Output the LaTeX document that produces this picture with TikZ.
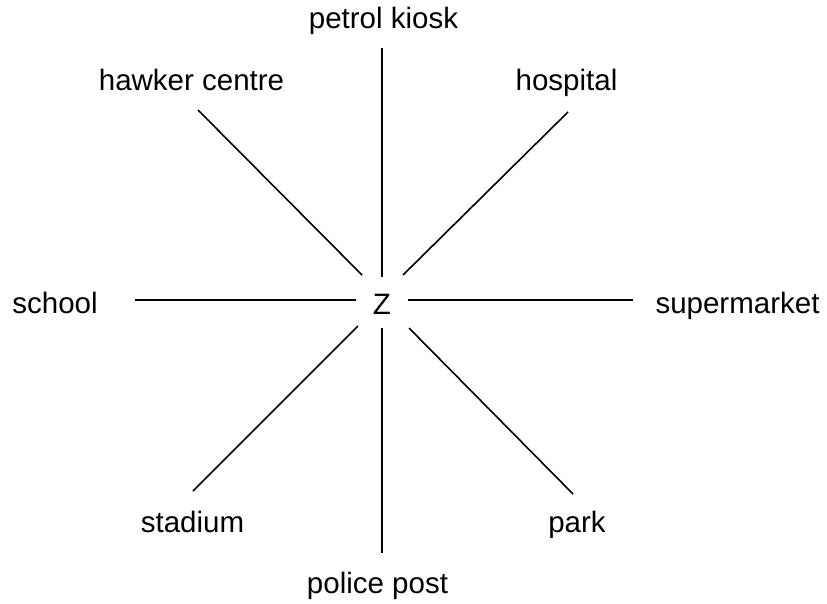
\documentclass[tikz,border=0pt]{standalone}
\usepackage{fontspec}
\setmainfont{Liberation Sans}
\begin{document}
\begin{tikzpicture}[x=1pt,y=-1pt,
  lbl/.style={anchor=base,inner sep=0pt,font=\fontsize{29.5}{34}\selectfont},
  spoke/.style={line width=1.6pt,black}]
\useasboundingbox (0,0) rectangle (827,603);
\fill[white] (0,0) rectangle (827,603);
% labels
\node[lbl] (pk) at (383.5,28) {petrol kiosk};
\node[lbl] (hc) at (191.5,90) {hawker centre};
\node[lbl] (ho) at (566.5,90) {hospital};
\node[lbl] (sc) at (55,313) {school};
\node[lbl] (sm) at (737.5,313) {supermarket};
\node[lbl] (z) at (382,314) {Z};
\node[lbl] (st) at (192.5,532) {stadium};
\node[lbl] (pa) at (577,532) {park};
\node[lbl] (pp) at (377.5,593) {police post};
% spoke end points
\coordinate (nO) at (382,48);   \coordinate (nI) at (382,277);
\coordinate (sI) at (382,328);  \coordinate (sO) at (382,553);
\coordinate (wO) at (135,300);  \coordinate (wI) at (356,300);
\coordinate (eI) at (408,300);  \coordinate (eO) at (633,300);
\coordinate (nwO) at (198,110); \coordinate (nwI) at (362,275);
\coordinate (neO) at (568,112); \coordinate (neI) at (403,275);
\coordinate (swI) at (358,326); \coordinate (swO) at (193,491);
\coordinate (seI) at (409,328); \coordinate (seO) at (573,494);
\draw[spoke] (nO) -- (nI);
\draw[spoke] (sI) -- (sO);
\draw[spoke] (wO) -- (wI);
\draw[spoke] (eI) -- (eO);
\draw[spoke] (nwO) -- (nwI);
\draw[spoke] (neO) -- (neI);
\draw[spoke] (swI) -- (swO);
\draw[spoke] (seI) -- (seO);
\end{tikzpicture}
\end{document}
